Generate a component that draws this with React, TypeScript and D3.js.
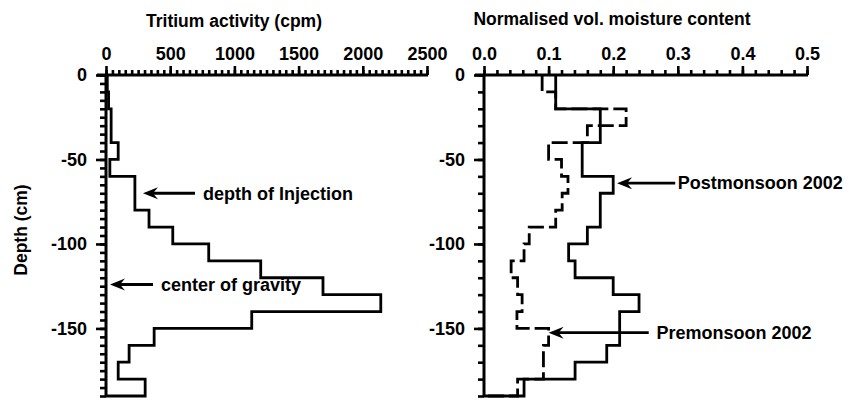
import React, { useEffect, useRef } from "react";
import * as d3 from "d3";

// depth of the top of each 10 cm sampling interval (cm)
const depthTops = [0, -10, -20, -30, -40, -50, -60, -70, -80, -90, -100, -110, -120, -130, -140, -150, -160, -170, -180];
const depthBottom = -190;

// tritium activity per interval (cpm)
const tritium = [10, 20, 40, 40, 95, 30, 225, 225, 335, 520, 800, 1205, 1690, 2140, 1135, 375, 180, 95, 305];

// normalised volumetric moisture content per interval
const postmonsoon = [0.111, 0.111, 0.18, 0.18, 0.152, 0.152, 0.2, 0.18, 0.18, 0.16, 0.131, 0.141, 0.2, 0.24, 0.21, 0.21, 0.19, 0.141, 0.062];
const premonsoon = [0.09, 0.111, 0.22, 0.16, 0.1, 0.12, 0.13, 0.121, 0.111, 0.07, 0.062, 0.042, 0.052, 0.059, 0.051, 0.1, 0.092, 0.092, 0.052];

const depthTicks = [0, -50, -100, -150];
const tritiumTicks = [0, 500, 1000, 1500, 2000, 2500];
const moistureTicks = [0, 0.1, 0.2, 0.3, 0.4, 0.5];

// annotations: [tip value, tail value, text value, depth, label]
const leftNotes: [number, number, number, number, string][] = [
  [288, 693, 755, -70, "depth of Injection"],
  [31, 366, 428, -124, "center of gravity"],
];
const rightNotes: [number, number, number, number, string][] = [
  [0.206, 0.296, 0.3, -64, "Postmonsoon 2002"],
  [0.1, 0.255, 0.267, -152.5, "Premonsoon 2002"],
];

const FONT = "'Liberation Sans', Arial, sans-serif";

export default function App() {
  const ref = useRef<SVGSVGElement>(null);

  useEffect(() => {
    const svg = d3.select(ref.current);
    svg.selectAll("*").remove();

    const y = d3.scaleLinear().domain([0, depthBottom]).range([75, 396]);
    const xL = d3.scaleLinear().domain([0, 2500]).range([106, 427]);
    const xR = d3.scaleLinear().domain([0, 0.5]).range([484, 807]);

    const steps = (vals: number[]) => {
      const pts: [number, number][] = [];
      vals.forEach((v, i) => {
        const bottom = i + 1 < depthTops.length ? depthTops[i + 1] : depthBottom;
        pts.push([v, depthTops[i]]);
        pts.push([v, bottom]);
      });
      pts.push([0, depthBottom]);
      return pts;
    };

    const drawAxes = (x: d3.ScaleLinear<number, number>, minorX: number, minorY: number, fmt: (d: number) => string, ticksX: number[]) => {
      const g = svg.append("g");
      const [x0, x1] = x.range();
      // minor ticks
      g.append("g")
        .attr("transform", "translate(0,75)")
        .call(d3.axisTop(x).tickValues(d3.range(0, x.domain()[1] + minorX / 2, minorX)).tickSize(5).tickSizeOuter(0).tickFormat(() => ""));
      g.append("g")
        .attr("transform", "translate(0,75)")
        .call(d3.axisTop(x).tickValues(ticksX).tickSize(9).tickSizeOuter(0).tickFormat((d) => fmt(d as number)).tickPadding(6));
      g.append("g")
        .attr("transform", `translate(${x0},0)`)
        .call(d3.axisLeft(y).tickValues(d3.range(0, depthBottom - 1, -minorY)).tickSize(6).tickSizeOuter(0).tickFormat(() => ""));
      g.append("g")
        .attr("transform", `translate(${x0},0)`)
        .call(d3.axisLeft(y).tickValues(depthTicks).tickSize(10).tickSizeOuter(0).tickPadding(9).tickFormat((d) => String(d)));
      g.selectAll(".domain").remove();
      g.selectAll(".tick line").attr("stroke", "#000").attr("stroke-width", 2.6);
      g.selectAll(".tick text")
        .attr("fill", "#000")
        .style("font-family", FONT)
        .style("font-weight", "bold")
        .style("font-size", "18px");
      g.append("line").attr("x1", x0 - 9).attr("x2", x1 + 1).attr("y1", 75).attr("y2", 75).attr("stroke", "#000").attr("stroke-width", 3);
      g.append("line").attr("x1", x0).attr("x2", x0).attr("y1", 74).attr("y2", 397).attr("stroke", "#000").attr("stroke-width", 3);
    };

    drawAxes(xL, 50, 5, (d) => String(d), tritiumTicks);
    drawAxes(xR, 0.02, 10, (d) => d3.format(".1f")(d), moistureTicks);

    const lineL = d3.line<[number, number]>().x((d) => xL(d[0])).y((d) => y(d[1]));
    const lineR = d3.line<[number, number]>().x((d) => xR(d[0])).y((d) => y(d[1]));

    svg.append("path").attr("d", lineL(steps(tritium))).attr("fill", "none").attr("stroke", "#000").attr("stroke-width", 2.8);
    svg.append("path").attr("d", lineR(steps(premonsoon))).attr("fill", "none").attr("stroke", "#000").attr("stroke-width", 2.8).attr("stroke-dasharray", "16,5");
    svg.append("path").attr("d", lineR(steps(postmonsoon))).attr("fill", "none").attr("stroke", "#000").attr("stroke-width", 2.8);

    const arrow = (tx: number, ux: number, lx: number, yy: number, label: string) => {
      svg.append("line").attr("x1", tx + 9).attr("x2", ux).attr("y1", yy).attr("y2", yy).attr("stroke", "#000").attr("stroke-width", 2.8);
      svg.append("path")
        .attr("d", `M${tx},${yy} L${tx + 15},${yy - 6} L${tx + 10},${yy} L${tx + 15},${yy + 6} Z`)
        .attr("fill", "#000");
      svg.append("text")
        .attr("x", lx)
        .attr("y", yy)
        .attr("dy", "0.35em")
        .style("font-family", FONT)
        .style("font-weight", "bold")
        .style("font-size", "18px")
        .text(label);
    };
    leftNotes.forEach(([t, u, l, d, s]) => arrow(xL(t), xL(u), xL(l), y(d), s));
    rightNotes.forEach(([t, u, l, d, s]) => arrow(xR(t), xR(u), xR(l), y(d), s));

    const title = (x: number, yy: number, s: string) =>
      svg.append("text")
        .attr("x", x)
        .attr("y", yy)
        .attr("text-anchor", "middle")
        .style("font-family", FONT)
        .style("font-weight", "bold")
        .style("font-size", "17.5px")
        .text(s);
    title(234, 27, "Tritium activity (cpm)");
    title(612, 25, "Normalised vol. moisture content");

    svg.append("text")
      .attr("transform", "translate(27,230) rotate(-90)")
      .attr("text-anchor", "middle")
      .style("font-family", FONT)
      .style("font-weight", "bold")
      .style("font-size", "17.5px")
      .text("Depth (cm)");
  }, []);

  return (
    <svg
      ref={ref}
      width={855}
      height={401}
      style={{ position: "absolute", left: 0, top: 0, background: "#fff" }}
    />
  );
}
